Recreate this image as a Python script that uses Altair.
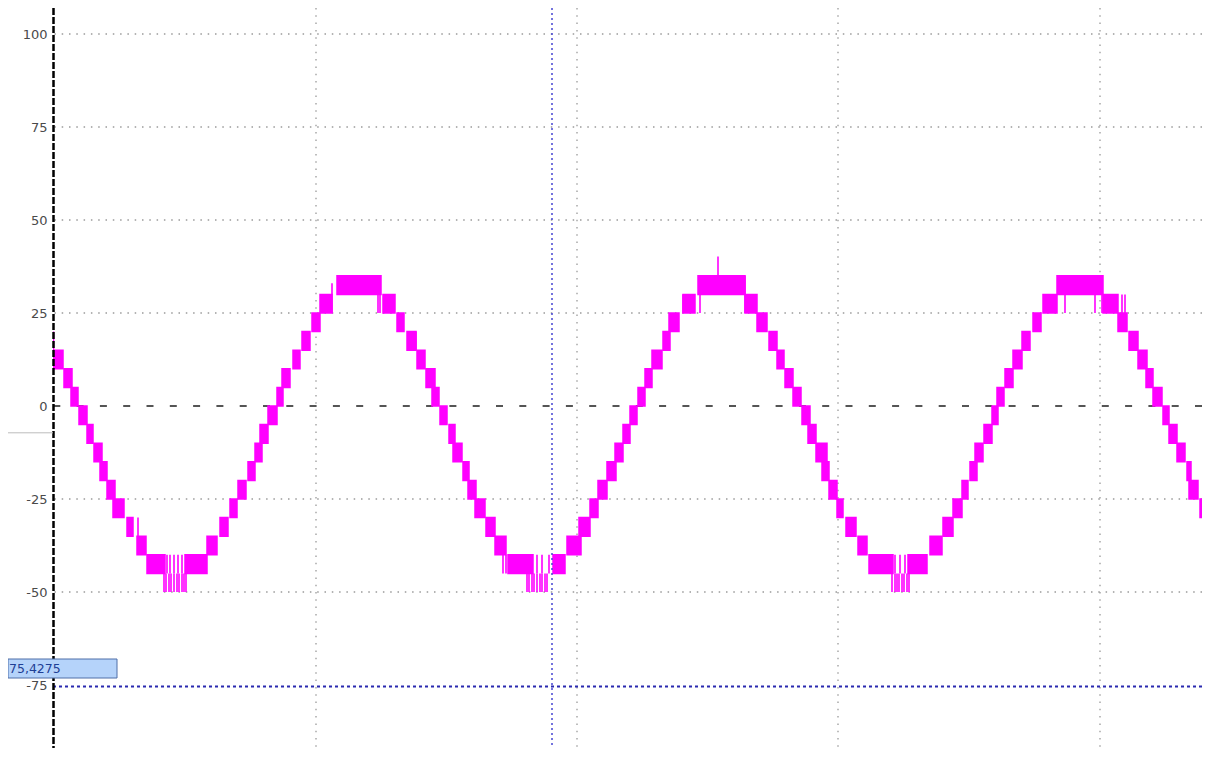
import altair as alt
import pandas as pd

# ---- waveform: quantised blocks (time start, time end, lower level; each block spans one 5-unit step)
band_start = [0, 11, 18, 26, 34, 41, 47, 54, 60, 74, 84, 94, 132, 154, 167, 177, 185, 195, 202, 207,
              215, 224, 229, 240, 249, 259, 267, 284, 330, 344, 354, 364, 373, 379, 387, 396, 400, 410,
              415, 422, 433, 442, 455, 500, 514, 526, 537, 545, 554, 562, 570, 577, 585, 592, 599, 610,
              616, 630, 645, 692, 704, 716, 724, 732, 740, 749, 755, 763, 769, 776, 784, 793, 805, 816,
              855, 877, 890, 900, 909, 917, 922, 931, 939, 944, 952, 960, 969, 980, 990, 1004, 1050,
              1065, 1076, 1085, 1093, 1100, 1110, 1116, 1124, 1134, 1136, 1147, 1155]
band_end = [10, 19, 25, 34, 40, 49, 54, 62, 71, 80, 93, 112, 154, 164, 175, 184, 193, 202, 209, 215,
            224, 230, 237, 247, 257, 267, 279, 328, 342, 351, 363, 372, 382, 386, 394, 402, 409, 416,
            423, 432, 442, 453, 480, 512, 528, 537, 545, 554, 563, 570, 577, 584, 592, 599, 609, 617,
            626, 642, 692, 704, 714, 724, 731, 740, 748, 757, 763, 774, 776, 784, 790, 803, 814, 840,
            874, 889, 900, 909, 915, 924, 930, 939, 945, 951, 960, 969, 977, 988, 1004, 1050, 1065,
            1074, 1085, 1094, 1100, 1109, 1116, 1124, 1132, 1138, 1145, 1154, 1160]
band_low = [10, 5, 0, -5, -10, -15, -20, -25, -30, -35, -40, -45, -45, -40, -35, -30, -25, -20, -15, -10,
            -5, 0, 5, 10, 15, 20, 25, 30, 25, 20, 15, 10, 5, 0, -5, -10, -15, -20,
            -25, -30, -35, -40, -45, -45, -40, -35, -30, -25, -20, -15, -10, -5, 0, 5, 10, 15,
            20, 25, 30, 25, 20, 15, 10, 5, 0, -5, -10, -15, -20, -25, -30, -35, -40, -45,
            -45, -40, -35, -30, -25, -20, -15, -10, -5, 0, 5, 10, 15, 20, 25, 30, 25,
            20, 15, 10, 5, 0, -5, -10, -15, -20, -25, -30, -35]
step = 5

# ---- thin single transitions (time, low, high)
spike_t = [0.5, 85, 111, 113, 116, 118, 121, 124, 126, 129, 131, 133, 114, 117, 121, 125, 129,
           279, 325, 327, 363, 450, 453, 474, 476, 479, 481, 484, 487, 489, 492, 494, 484, 489, 496,
           630, 647, 665, 692, 839, 842, 844, 846, 849, 851, 854, 856, 842, 847, 852,
           1012, 1042, 1049, 1069, 1072, 1139, 1141]
spike_lo = [15, -35, -50, -50, -50, -50, -50, -50, -50, -50, -50, -50, -45, -45, -45, -45, -45,
            25, 25, 25, 15, -45, -45, -50, -50, -50, -50, -50, -50, -50, -50, -50, -45, -45, -45,
            25, 25, 35, 25, -50, -50, -50, -50, -50, -50, -50, -50, -45, -45, -45,
            25, 25, 25, 20, 20, -25, -25]
spike_hi = [20, -30, -45, -45, -45, -45, -45, -45, -45, -45, -45, -45, -40, -40, -40, -40, -40,
            33, 30, 30, 20, -40, -40, -45, -45, -45, -45, -45, -45, -45, -45, -45, -40, -40, -40,
            30, 30, 40.2, 35, -45, -45, -45, -45, -45, -45, -45, -45, -40, -40, -40,
            30, 30, 35, 30, 30, -20, -20]

grid_y = [100, 75, 50, 25, -25, -50]
grid_t = [263, 524, 785, 1047]
y_ticks = [100, 75, 50, 25, 0, -25, -50, -75]
cursor_t = 499
cursor_y = -75.4275
cursor_label = "75,4275"
marker_y = -7.2

bands = pd.DataFrame({"t0": band_start, "t1": band_end, "lo": band_low})
bands["hi"] = bands["lo"] + step
spikes = pd.DataFrame({"t": spike_t, "lo": spike_lo, "hi": spike_hi})

xs = alt.Scale(domain=[0, 1149], nice=False, zero=False)
ys = alt.Scale(domain=[-91.93, 106.99], nice=False, zero=False)
yaxis = alt.Axis(values=y_ticks, domain=False, ticks=False, grid=False, labelPadding=6,
                 labelFont="DejaVu Sans", labelFontSize=13, labelColor="#4a4a4a",
                 labelExpr="toString(datum.value)", title=None)

hgrid = alt.Chart(pd.DataFrame({"v": grid_y})).mark_rule(
    color="#9a9a9a", strokeWidth=1.3, strokeDash=[1.5, 5.8]
).encode(y=alt.Y("v:Q", scale=ys, axis=yaxis))

vgrid = alt.Chart(pd.DataFrame({"t": grid_t})).mark_rule(
    color="#9a9a9a", strokeWidth=1.3, strokeDash=[1.5, 5.8]
).encode(x=alt.X("t:Q", scale=xs, axis=None))

zero = alt.Chart(pd.DataFrame({"v": [0]})).mark_rule(
    color="#555555", strokeWidth=2, strokeDash=[7, 16.3]
).encode(y=alt.Y("v:Q", scale=ys, axis=yaxis))

blocks = alt.Chart(bands).mark_rect(color="#ff00ff", stroke="#ff00ff", strokeWidth=1.5, clip=True).encode(
    x=alt.X("t0:Q", scale=xs, axis=None), x2="t1",
    y=alt.Y("lo:Q", scale=ys, axis=yaxis), y2="hi")

lines = alt.Chart(spikes).mark_rule(color="#ff00ff", strokeWidth=1.6, clip=True).encode(
    x=alt.X("t:Q", scale=xs, axis=None),
    y=alt.Y("lo:Q", scale=ys, axis=yaxis), y2="hi")

cur_v = alt.Chart(pd.DataFrame({"t": [cursor_t]})).mark_rule(
    color="#4646d2", strokeWidth=1.5, strokeDash=[2, 3]
).encode(x=alt.X("t:Q", scale=xs, axis=None))

cur_h = alt.Chart(pd.DataFrame({"v": [cursor_y]})).mark_rule(
    color="#2a2ab0", strokeWidth=2, strokeDash=[3, 3]
).encode(y=alt.Y("v:Q", scale=ys, axis=yaxis))

yline = alt.Chart(pd.DataFrame({"t": [0.5]})).mark_rule(
    color="#000000", strokeWidth=2.5, strokeDash=[7, 2]
).encode(x=alt.X("t:Q", scale=xs, axis=None))

marker = alt.Chart(pd.DataFrame({"v": [marker_y]})).mark_rule(
    color="#bdbdbd", strokeWidth=1
).encode(y=alt.Y("v:Q", scale=ys, axis=yaxis), x=alt.value(-45), x2=alt.value(0))

box = alt.Chart(pd.DataFrame({"v": [cursor_y]})).mark_rect(
    fill="#b5d3fa", stroke="#4f6fa8", strokeWidth=1
).encode(x=alt.value(-45), x2=alt.value(64), y=alt.value(651), y2=alt.value(670))

label = alt.Chart(pd.DataFrame({"s": [cursor_label]})).mark_text(
    align="left", baseline="middle", font="DejaVu Sans", fontSize=12.5, color="#1f3f95"
).encode(text="s:N", x=alt.value(-44), y=alt.value(661))

chart = alt.layer(hgrid, vgrid, zero, blocks, lines, cur_v, cur_h, yline, marker, box, label).properties(
    width=1149, height=740,
    autosize=alt.AutoSizeParams(type="none"),
    padding={"left": 45, "top": 0, "right": 0, "bottom": 0},
    background="white",
).configure_view(stroke=None)

chart.save("out.html", embed_options={"renderer": "svg", "actions": False})
